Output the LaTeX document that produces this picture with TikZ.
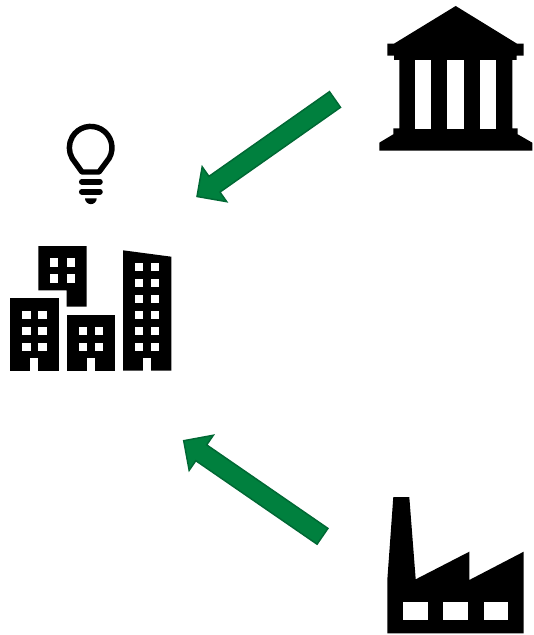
\documentclass[tikz,border=0pt]{standalone}
\usepackage{tikz}
\usetikzlibrary{calc}
\definecolor{cArrow}{RGB}{0,128,62}
\definecolor{cEdge}{RGB}{0,104,52}
\begin{document}
\begin{tikzpicture}[x=0.75pt, y=-0.75pt,
            icon/.style={fill=black},
            pane/.style={fill=white},
            bigarrow/.style={draw=cEdge, line width=1.1pt, fill=cArrow, miter limit=4,
                to path={($(\tikztostart)!7.2pt!90:(\tikztotarget)$)
                    -- ($(\tikztotarget)!16pt!(\tikztostart)!7.2pt!-90:(\tikztostart)$)
                    -- ($(\tikztotarget)!16pt!(\tikztostart)!16pt!-90:(\tikztostart)$)
                    -- (\tikztotarget)
                    -- ($(\tikztotarget)!16pt!(\tikztostart)!16pt!90:(\tikztostart)$)
                    -- ($(\tikztotarget)!16pt!(\tikztostart)!7.2pt!90:(\tikztostart)$)
                    -- ($(\tikztostart)!7.2pt!-90:(\tikztotarget)$) -- cycle}}]
            \useasboundingbox (0,0) rectangle (534,635);
            \coordinate (bankTail)    at (335,99.5);
            \coordinate (lampTip)     at (197,196.5);
            \coordinate (factoryTail) at (322.5,536.3);
            \coordinate (cityTip)     at (183.7,440.7);
            % bank
            \fill[icon] (455.7,6) -- (517,43.7) -- (523.7,43.7) -- (523.7,55.7) -- (516.7,55.7) -- (516.7,60)
                -- (512.3,60) -- (512.3,128.3) -- (517.7,128.3) -- (517.7,134.3) -- (532.3,142.7) -- (532.3,150.7)
                -- (379.3,150.7) -- (379.3,142.7) -- (393.3,134.3) -- (393.3,128.3) -- (399.3,128.3) -- (399.3,60)
                -- (394,60) -- (394,55.7) -- (387.3,55.7) -- (387.3,43.7) -- (394,43.7) -- cycle;
            \foreach \px in {415,447.3,479.7}
                \fill[pane] (\px,60.3) rectangle +(16.4,68.7);
            % lamp
            \draw[line width=4.1pt, line join=round] (109.1,158.35) arc[start angle=30, end angle=-210, radius=21.3]
                -- (82,172) -- (99,172) -- cycle;
            \foreach \py in {181.7,191.7}
                \draw[line width=4.3pt, line cap=round] (81.8,\py) -- (99.9,\py);
            \fill[icon] (96.7,198.3) arc[start angle=0, end angle=180, radius=5.85] -- cycle;
            % buildings
            \fill[icon] (38.3,246) -- (86.7,246) -- (86.7,306.7) -- (66.7,306.7) -- (66.7,290.3) -- (38.3,290.3) -- cycle;
            \fill[icon] (10.3,298.3) rectangle (58.7,370.7);
            \fill[icon] (66.7,315) rectangle (115,370.7);
            \fill[icon] (123,250.3) -- (171.3,256.7) -- (171.3,370.7) -- (123,370.7) -- cycle;
            \foreach \px in {50,66.5}
                \foreach \py in {258.3,274.3}
                    \fill[pane] (\px,\py) rectangle +(8.3,8.3);
            \foreach \px in {22.3,38.3}
                \foreach \py in {311,327,343}
                    \fill[pane] (\px,\py) rectangle +(8.2,8);
            \foreach \px in {78.7,94.7}
                \foreach \py in {327,343}
                    \fill[pane] (\px,\py) rectangle +(8,8);
            \foreach \px in {134.9,151}
                \foreach \py in {263.3,279.3,295.3,311.3,327.3,343.3}
                    \fill[pane] (\px,\py) rectangle +(8.1,8);
            \foreach \px in {30.3,86.7,143.1}
                \fill[pane] (\px,358.3) rectangle (\px+8,370.8);
            % factory
            \fill[icon] (393.3,497) -- (409.3,497) -- (415.7,579.3) -- (469.3,551.7) -- (469.3,580) -- (523.7,551.7)
                -- (523.7,633.3) -- (387.3,633.3) -- (387.3,580) -- cycle;
            \foreach \px in {403.3,443.3,484}
                \fill[pane] (\px,601.7) rectangle +(24.4,18.3);
            % arrows
            \draw[bigarrow] (bankTail) to (lampTip);
            \draw[bigarrow] (factoryTail) to (cityTip);
        \end{tikzpicture}
\end{document}
